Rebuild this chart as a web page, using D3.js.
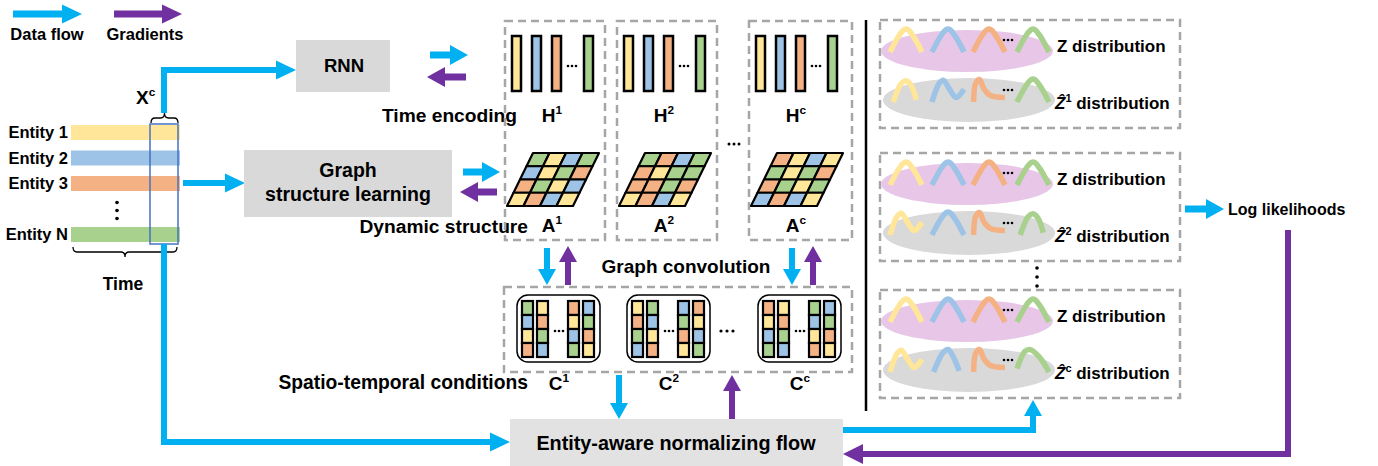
<!DOCTYPE html>
<html>
<head>
<meta charset="utf-8">
<script src="https://cdn.jsdelivr.net/npm/d3@7"></script>
<style>
  body { margin: 0; background: #fff; }
  text { font-family: "Liberation Sans", Arial, "DejaVu Sans", sans-serif; font-weight: bold; fill: #000; }
</style>
</head>
<body>
<svg id="fig" width="1378" height="466"></svg>
<script>
  /*
   * Data
   */

  // fill colours, keyed by letter
  var PALETTE = { y: "#ffe699", b: "#9dc3e6", o: "#f4b183", g: "#a9d18e" };

  var ENTITIES = ["Entity 1", "Entity 2", "Entity 3", "\u22ee", "Entity N"];
  var ENTITY_COLORS = ["y", "b", "o", null, "g"];

  // time steps 1, 2, ..., c
  var STEPS = ["1", "2", "c"];

  // hidden state bars in each H
  var H_COLORS = ["y", "b", "o", "g"];

  // adjacency grids (rows top to bottom) of A^1, A^2, A^c
  var A_GRIDS = [
    ["gybg", "bygo", "ogyb", "yoby"],
    ["gobg", "oygg", "oogo", "yoby"],
    ["oyby", "gygo", "ogyg", "boby"]
  ];

  // condition columns (top to bottom) of C^1, C^2, C^c
  var C_GRIDS = [
    ["gbyo", "yogb", "oybg", "bgoy"],
    ["yogb", "gbyo", "bgoy", "oybg"],
    ["oybg", "yogb", "gbyo", "bgoy"]
  ];

  // distribution curves in each right panel
  var Z_SHAPES = ["hump", "hump", "hump", "hump"];
  var HAT_SHAPES = [
    ["small", "wiggle", "ell", "hump"],
    ["wiggle", "hump", "ell", "small"],
    ["wiggle", "peak", "ell", "lean"]
  ];
  var CURVE_COLORS = ["y", "b", "o", "g"];

  // unit-square outlines of the little curves
  var SHAPES = {
    hump:   [[0, 1], [0.3, 0.25], [0.45, 0.02], [0.55, 0.02], [0.72, 0.3], [1, 1]],
    small:  [[0.1, 1], [0.35, 0.2], [0.5, 0.08], [0.65, 0.25], [0.82, 0.9]],
    peak:   [[0.05, 1], [0.35, 0.15], [0.5, 0.02], [0.65, 0.3], [0.85, 0.95]],
    lean:   [[0, 0.85], [0.25, 0.1], [0.4, 0.02], [0.7, 0.35], [1, 1]],
    wiggle: [[0, 1], [0.22, 0.2], [0.35, 0.05], [0.55, 0.45], [0.75, 0.8], [1, 0.45]],
    ell:    [[0.02, 1], [0.08, 0.2], [0.2, 0.02], [0.35, 0.45], [0.55, 0.72], [1, 0.8]]
  };

  /*
   * Drawing helpers
   */

  var CYAN = "#00b0f0";
  var PURPLE = "#7030a0";
  var DASH = "#a6a6a6";

  var svg = d3.select("#fig");

  function arrow(pts, color, w, hl, hw) {
    w = w || 6; hl = hl || 20; hw = hw || 9.5;
    var n = pts.length, a = pts[n - 2], b = pts[n - 1];
    var dx = b[0] - a[0], dy = b[1] - a[1];
    var L = Math.sqrt(dx * dx + dy * dy);
    var ux = dx / L, uy = dy / L;
    var base = [b[0] - ux * hl, b[1] - uy * hl];
    var shaft = pts.slice(0, n - 1).concat([[base[0] + ux, base[1] + uy]]);
    svg.append("path")
      .attr("d", d3.line()(shaft))
      .attr("fill", "none")
      .attr("stroke", color)
      .attr("stroke-width", w)
      .attr("stroke-linejoin", "miter");
    svg.append("path")
      .attr("d", d3.line()([
        b,
        [base[0] - uy * hw, base[1] + ux * hw],
        [base[0] + uy * hw, base[1] - ux * hw]
      ]) + "Z")
      .attr("fill", color);
  }

  function label(x, y, txt, size, anchor) {
    return svg.append("text")
      .attr("x", x).attr("y", y)
      .attr("font-size", size)
      .attr("text-anchor", anchor || "start")
      .text(txt);
  }

  function sup_label(x, y, base, sup, size, anchor) {
    var t = svg.append("text")
      .attr("x", x).attr("y", y)
      .attr("font-size", size)
      .attr("text-anchor", anchor || "middle");
    t.append("tspan").text(base);
    t.append("tspan").text(sup)
      .attr("font-size", size * 0.62)
      .attr("dy", -size * 0.4);
    return t;
  }

  function brace(x1, x2, y, d) {
    var m = (x1 + x2) / 2, h = d / 2, r = Math.min(4, (x2 - x1) / 6);
    var p = d3.path();
    p.moveTo(x1, y);
    p.quadraticCurveTo(x1, y + h, x1 + r, y + h);
    p.lineTo(m - r, y + h);
    p.quadraticCurveTo(m, y + h, m, y + d);
    p.quadraticCurveTo(m, y + h, m + r, y + h);
    p.lineTo(x2 - r, y + h);
    p.quadraticCurveTo(x2, y + h, x2, y);
    svg.append("path").attr("d", p.toString())
      .attr("fill", "none").attr("stroke", "#000").attr("stroke-width", 1.3);
  }

  function dashed_box(x, y, w, h) {
    svg.append("rect")
      .attr("x", x).attr("y", y).attr("width", w).attr("height", h)
      .attr("fill", "none")
      .attr("stroke", DASH)
      .attr("stroke-width", 2.5)
      .attr("stroke-dasharray", "8,5");
  }

  function dots(x, y, vertical, gap, r) {
    for (var i = -1; i <= 1; ++i) {
      svg.append("circle")
        .attr("cx", vertical ? x : x + i * gap)
        .attr("cy", vertical ? y + i * gap : y)
        .attr("r", r || 1.4)
        .attr("fill", "#000");
    }
  }

  /*
   * Legend
   */

  arrow([[13, 14], [82, 14]], CYAN, 7, 20, 9.5);
  arrow([[114, 14], [182, 14]], PURPLE, 7, 20, 9.5);
  label(47, 40, "Data flow", 16.5, "middle");
  label(145, 40, "Gradients", 16.5, "middle");

  /*
   * Input entities
   */

  var ey = d3.scalePoint().domain(ENTITIES).range([125, 227]);
  var ex = d3.scaleLinear().domain([0, 1]).range([71, 180]);

  ENTITIES.forEach(function (e, i) {
    if (ENTITY_COLORS[i] === null) {
      dots(117, ey(e) + 9, true, 8, 1.8);
      return;
    }
    svg.append("rect")
      .attr("x", ex(0)).attr("y", ey(e))
      .attr("width", ex(1) - ex(0)).attr("height", 15)
      .attr("fill", PALETTE[ENTITY_COLORS[i]]);
    label(68, ey(e) + 13, e, 16.5, "end");
  });

  // window of the current step
  svg.append("rect")
    .attr("x", 150).attr("y", 124).attr("width", 28).attr("height", 120)
    .attr("fill", "none").attr("stroke", "#4472c4").attr("stroke-width", 1.5);
  brace(151, 178, 123, -10);
  brace(73, 177, 247, 10);
  sup_label(136, 104, "X", "c", 19, "start");
  label(123, 290, "Time", 17.5, "middle");

  arrow([[164, 113], [164, 70], [296, 70]], CYAN, 6);
  arrow([[164, 244], [164, 442], [510, 442]], CYAN, 6);
  arrow([[183, 183], [245, 183]], CYAN, 6);

  /*
   * RNN and graph structure learning
   */

  svg.append("rect").attr("x", 296).attr("y", 40).attr("width", 94).attr("height", 52)
    .attr("fill", "#d9d9d9");
  label(344, 72, "RNN", 18.5, "middle");

  svg.append("rect").attr("x", 244).attr("y", 150).attr("width", 208).attr("height", 67)
    .attr("fill", "#d9d9d9");
  label(348, 177, "Graph", 19.5, "middle");
  label(348, 201, "structure learning", 19.5, "middle");

  arrow([[430, 55], [468, 55]], CYAN, 7, 18, 10);
  arrow([[466, 77], [427, 77]], PURPLE, 7, 18, 10);
  arrow([[463, 172], [500, 172]], CYAN, 7, 18, 10);
  arrow([[497, 192], [460, 192]], PURPLE, 7, 18, 10);

  label(517, 122, "Time encoding", 19.2, "end");
  label(528, 233, "Dynamic structure", 19.2, "end");

  /*
   * Per-step H and A
   */

  var COL_X = [505, 617, 749];
  var COL_W = [100, 100, 103];
  var hslot = d3.scaleLinear().domain([0, 1]).range([7, 27]);
  var H_SLOTS = [0, 1, 2, 3.6];
  var ay = d3.scaleLinear().domain([0, 4]).range([153, 206]);
  var ax = d3.scaleLinear().domain([0, 4]).range([0, 66]);
  var askew = d3.scaleLinear().domain([0, 4]).range([26, 0]);

  STEPS.forEach(function (s, k) {
    var x0 = COL_X[k];
    dashed_box(x0, 21, COL_W[k], 219);

    // H bars
    H_COLORS.forEach(function (c, i) {
      svg.append("rect")
        .attr("x", x0 + hslot(H_SLOTS[i])).attr("y", 36)
        .attr("width", 9).attr("height", 55)
        .attr("fill", PALETTE[c])
        .attr("stroke", "#000").attr("stroke-width", 2.5);
    });
    dots(x0 + 67, 66, false, 4, 1.3);
    sup_label(x0 + 47, 122, "H", s, 19, "middle");

    // A grid
    var left = x0 + 2;
    A_GRIDS[k].forEach(function (row, r) {
      row.split("").forEach(function (c, j) {
        var pts = [
          [left + askew(r) + ax(j), ay(r)],
          [left + askew(r) + ax(j + 1), ay(r)],
          [left + askew(r + 1) + ax(j + 1), ay(r + 1)],
          [left + askew(r + 1) + ax(j), ay(r + 1)]
        ];
        svg.append("path")
          .attr("d", d3.line()(pts) + "Z")
          .attr("fill", PALETTE[c])
          .attr("stroke", "#000").attr("stroke-width", 2.2)
          .attr("stroke-linejoin", "round");
      });
    });
    sup_label(x0 + 47, 232, "A", s, 19, "middle");
  });
  dots(734, 144, false, 5, 1.5);

  /*
   * Graph convolution and C
   */

  label(686, 273, "Graph convolution", 19, "middle");
  arrow([[547, 248], [547, 285]], CYAN, 6, 16, 9);
  arrow([[568, 285], [568, 246]], PURPLE, 6, 16, 9);
  arrow([[792, 248], [792, 285]], CYAN, 6, 16, 9);
  arrow([[813, 285], [813, 246]], PURPLE, 6, 16, 9);

  dashed_box(504, 287, 348, 85);
  var C_X = [517, 627, 758];
  var cslot = d3.scaleOrdinal().domain([0, 1, 2, 3]).range([5, 20, 51, 66]);
  var cy = d3.scaleLinear().domain([0, 4]).range([301, 357]);

  STEPS.forEach(function (s, k) {
    var x0 = C_X[k];
    svg.append("rect")
      .attr("x", x0).attr("y", 295).attr("width", 83).attr("height", 67)
      .attr("rx", 11)
      .attr("fill", "#fff").attr("stroke", "#000").attr("stroke-width", 1.5);
    C_GRIDS[k].forEach(function (col, j) {
      col.split("").forEach(function (c, r) {
        svg.append("rect")
          .attr("x", x0 + cslot(j)).attr("y", cy(r))
          .attr("width", 11).attr("height", cy(r + 1) - cy(r))
          .attr("fill", PALETTE[c])
          .attr("stroke", "#000").attr("stroke-width", 2.2);
      });
    });
    dots(x0 + 42, 331, false, 4, 1.3);
    sup_label(x0 + 42, 390, "C", s, 19, "middle");
  });
  dots(727, 331, false, 6, 1.6);
  label(528, 389, "Spatio-temporal conditions", 19.3, "end");

  arrow([[619, 375], [619, 419]], CYAN, 6, 16, 9);
  arrow([[732, 419], [732, 375]], PURPLE, 6, 16, 9);

  /*
   * Normalizing flow
   */

  svg.append("rect").attr("x", 510).attr("y", 419).attr("width", 333).attr("height", 50)
    .attr("fill", "#e2e2e2");
  label(676, 450, "Entity-aware normalizing flow", 19.8, "middle");

  arrow([[843, 430], [1033, 430], [1033, 400]], CYAN, 6, 16, 9);
  arrow([[1288, 230], [1288, 454], [843, 454]], PURPLE, 6, 20, 10);

  svg.append("line")
    .attr("x1", 866).attr("x2", 866).attr("y1", 20).attr("y2", 411)
    .attr("stroke", "#000").attr("stroke-width", 2.5);

  /*
   * Distribution panels
   */

  var PANEL_TOP = [20, 153, 290];
  var CURVE_X = [890, 932, 973, 1017];
  var sx = d3.scaleLinear().domain([0, 1]).range([0, 32]);
  var sy = d3.scaleLinear().domain([0, 1]).range([0, 23]);
  var curve = d3.line()
    .x(function (d) { return sx(d[0]); })
    .y(function (d) { return sy(d[1]); })
    .curve(d3.curveCatmullRom.alpha(0.5));

  function draw_curves(shapes, top) {
    shapes.forEach(function (sh, i) {
      svg.append("path")
        .attr("transform", "translate(" + CURVE_X[i] + "," + top + ")")
        .attr("d", curve(SHAPES[sh]))
        .attr("fill", "none")
        .attr("stroke", PALETTE[CURVE_COLORS[i]])
        .attr("stroke-width", 5.5);
    });
  }

  PANEL_TOP.forEach(function (top, k) {
    dashed_box(880, top, 300, 108);
    svg.append("ellipse")
      .attr("cx", 967).attr("cy", top + 31).attr("rx", 86).attr("ry", 21)
      .attr("fill", "#e8c6e8");
    svg.append("ellipse")
      .attr("cx", 969).attr("cy", top + 80).attr("rx", 86).attr("ry", 22)
      .attr("fill", "#d9d9d9");
    draw_curves(Z_SHAPES, top + 9);
    draw_curves(HAT_SHAPES[k], top + 59);
    dots(1008, top + 20, false, 4, 1.3);
    dots(1008, top + 70, false, 4, 1.3);

    label(1057, top + 32, "Z distribution", 17, "start");
    var t = svg.append("text")
      .attr("x", 1055).attr("y", top + 89)
      .attr("font-size", 17);
    t.append("tspan").text("\u1E90").attr("font-style", "italic");
    t.append("tspan").text(STEPS[k]).attr("font-size", 11).attr("dy", -7);
    t.append("tspan").text(" distribution").attr("dy", 7);
  });
  dots(1037, 277, true, 9, 1.8);

  arrow([[1185, 209], [1224, 209]], CYAN, 7, 18, 10);
  label(1228, 215, "Log likelihoods", 16, "start");
</script>
</body>
</html>
